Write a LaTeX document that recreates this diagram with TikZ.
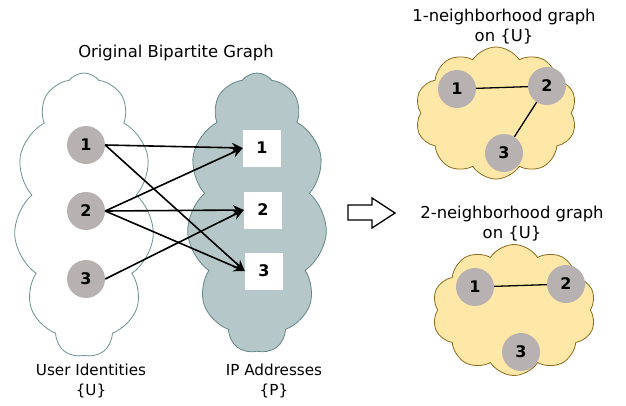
\documentclass[tikz,border=0pt]{standalone}
\usepackage{fontspec}
\setmainfont{DejaVu Sans}
\usetikzlibrary{shapes.symbols,arrows.meta}
\definecolor{usercloudline}{RGB}{110,145,145}
\definecolor{ipcloudfill}{RGB}{181,199,201}
\definecolor{ipcloudline}{RGB}{100,135,135}
\definecolor{nbfill}{RGB}{255,231,168}
\definecolor{nbline}{RGB}{140,108,30}
\definecolor{vertexgray}{RGB}{183,177,177}
\tikzset{
  blob/.style={cloud, cloud ignores aspect, inner sep=0pt, line width=0.8pt},
  vertex/.style={circle, fill=vertexgray, minimum size=38pt, inner sep=0pt, font=\bfseries\fontsize{16}{16}\selectfont},
  ipbox/.style={rectangle, fill=white, minimum width=38pt, minimum height=37pt, inner sep=0pt, font=\bfseries\fontsize{16}{16}\selectfont},
  caption/.style={align=center, font=\fontsize{15.2}{19.5}\selectfont},
  heading/.style={align=center, font=\fontsize{16.4}{20}\selectfont},
  link/.style={line width=1.6pt, -{Stealth[length=11pt,width=10pt]}},
  nbedge/.style={line width=1.3pt}
}
\begin{document}
\begin{tikzpicture}[x=1pt,y=-1pt]
\useasboundingbox (0,0) rectangle (626,405);

% bipartite graph: two clouds
\node[blob, draw=usercloudline, fill=white, cloud puffs=11, cloud puff arc=105,
      minimum width=140pt, minimum height=284pt] (ucloud) at (84,215) {};
\node[blob, draw=ipcloudline, fill=ipcloudfill, cloud puffs=11, cloud puff arc=105,
      minimum width=140pt, minimum height=280pt] (pcloud) at (257,213) {};

\node[heading] (title) at (176,53) {Original Bipartite Graph};

\node[vertex] (u1) at (86,145) {1};
\node[vertex] (u2) at (86,211) {2};
\node[vertex] (u3) at (86,279) {3};

\node[ipbox] (p1) at (262,148) {1};
\node[ipbox] (p2) at (263,210) {2};
\node[ipbox] (p3) at (264,271) {3};

\draw[link] (u1.east) -- (p1.west);
\draw[link] (u1.east) -- (p3.west);
\draw[link] (u2.east) -- (p1.west);
\draw[link] (u2.east) -- (p2.west);
\draw[link] (u2.east) -- (p3.west);
\draw[link] (u3.east) -- (p2.west);

\node[caption] (ulabel) at (91,381) {User Identities\\\{U\}};
\node[caption] (plabel) at (274,381) {IP Addresses\\\{P\}};

% hollow block arrow
\draw[line width=1.3pt, line join=miter, fill=white]
  (348,205) -- (372,205) -- (372,198) -- (395,213) -- (372,228) -- (372,220) -- (348,220) -- cycle;

% 1-neighborhood graph
\node[heading] (t1) at (504,27) {1-neighborhood graph\\on \{U\}};
\node[blob, draw=nbline, fill=nbfill, cloud puffs=10, cloud puff arc=115,
      minimum width=162pt, minimum height=132pt] (c1) at (496,113) {};
\node[vertex] (a1) at (457,89) {1};
\node[vertex] (a2) at (547,86) {2};
\node[vertex] (a3) at (504,153) {3};
\draw[nbedge] (a1) -- (a2);
\draw[nbedge] (a2) -- (a3);

% 2-neighborhood graph
\node[heading] (t2) at (512,224) {2-neighborhood graph\\on \{U\}};
\node[blob, draw=nbline, fill=nbfill, cloud puffs=10, cloud puff arc=115,
      minimum width=164pt, minimum height=131pt] (c2) at (514,310) {};
\node[vertex] (b1) at (475,287) {1};
\node[vertex] (b2) at (566,284) {2};
\node[vertex] (b3) at (521,352) {3};
\draw[nbedge] (b1) -- (b2);
\end{tikzpicture}
\end{document}
